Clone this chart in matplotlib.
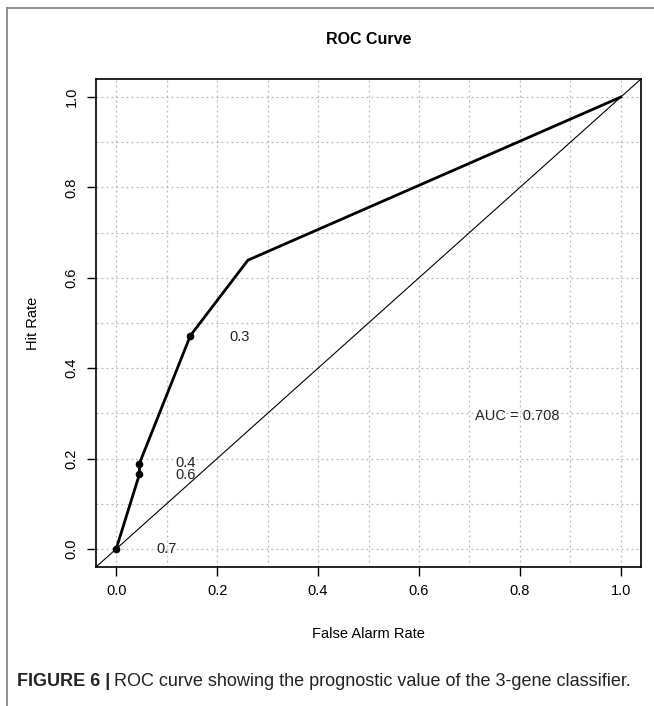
import matplotlib
matplotlib.use("Agg")
import matplotlib.pyplot as plt
from matplotlib.lines import Line2D

# ROC data
far = [0.0, 0.046, 0.046, 0.147, 0.261, 1.0]
hit = [0.0, 0.165, 0.189, 0.472, 0.639, 1.0]
# thresholds with markers
thr_far = [0.0, 0.046, 0.046, 0.147]
thr_hit = [0.0, 0.165, 0.189, 0.472]
thr_labels = ["0.7", "0.6", "0.4", "0.3"]
thr_label_x = [0.099, 0.137, 0.137, 0.244]
thr_label_y = [0.0, 0.163, 0.191, 0.47]
auc_text = "AUC = 0.708"
auc_pos = (0.794, 0.294)
ticks = [0.0, 0.2, 0.4, 0.6, 0.8, 1.0]
tick_labels = ["0.0", "0.2", "0.4", "0.6", "0.8", "1.0"]
grid_vals = [i / 10 for i in range(11)]

plt.rcParams['font.family'] = ['Liberation Sans', 'DejaVu Sans']

W, H = 654, 706
fig = plt.figure(figsize=(W / 100, H / 100), dpi=100)

# outer frame lines (top and left)
fig.add_artist(Line2D([7 / W, 1.0], [1 - 8 / H, 1 - 8 / H], color="#888888", lw=1.3,
                      transform=fig.transFigure))
fig.add_artist(Line2D([7 / W, 7 / W], [1 - 8 / H, 0.0], color="#888888", lw=1.3,
                      transform=fig.transFigure))

ax = fig.add_axes([96 / W, 1 - 567 / H, 545 / W, 488 / H])
ax.set_xlim(-0.04, 1.04)
ax.set_ylim(-0.04, 1.04)

for g in grid_vals:
    ax.axvline(g, color="#b8b8b8", lw=0.9, ls=(0, (1.5, 2.5)), zorder=0)
    ax.axhline(g, color="#b8b8b8", lw=0.9, ls=(0, (1.5, 2.5)), zorder=0)

ax.axline((0, 0), (1, 1), color="black", lw=0.8, zorder=2)
ax.plot(far, hit, color="black", lw=2.0, zorder=3, solid_joinstyle="round")
ax.plot(thr_far, thr_hit, "o", color="black", ms=4.5, zorder=4)

for lx, ly, lab in zip(thr_label_x, thr_label_y, thr_labels):
    ax.text(lx, ly, lab, ha="center", va="center", fontsize=10.5, color="#222222")
ax.text(auc_pos[0], auc_pos[1], auc_text, ha="center", va="center", fontsize=10.5,
        color="#222222")

ax.set_xticks(ticks)
ax.set_xticklabels(tick_labels)
ax.set_yticks(ticks)
ax.set_yticklabels(tick_labels, rotation=90, va="center")
ax.tick_params(direction="out", length=6.5, width=1.0, labelsize=10.5, pad=6,
               colors="black")
for sp in ax.spines.values():
    sp.set_linewidth(1.2)

fig.text(368.5 / W, 1 - 40 / H, "ROC Curve", ha="center", va="center",
         fontsize=11.5, fontweight="bold")
fig.text(368.5 / W, 1 - 634 / H, "False Alarm Rate", ha="center", va="center",
         fontsize=10.5)
fig.text(33 / W, 1 - 323 / H, "Hit Rate", ha="center", va="center", rotation=90,
         fontsize=10.5)

# caption
cap_y = 1 - 682 / H
t1 = fig.text(17 / W, cap_y, "FIGURE 6 |", ha="left", va="center", fontsize=13,
              fontweight="bold", color="#222222")
fig.canvas.draw()
bb = t1.get_window_extent()
fig.text(bb.x1 / W + 4 / W, cap_y,
         "ROC curve showing the prognostic value of the 3-gene classifier.",
         ha="left", va="center", fontsize=13, color="#222222")

fig.savefig("out.png", dpi=100)
